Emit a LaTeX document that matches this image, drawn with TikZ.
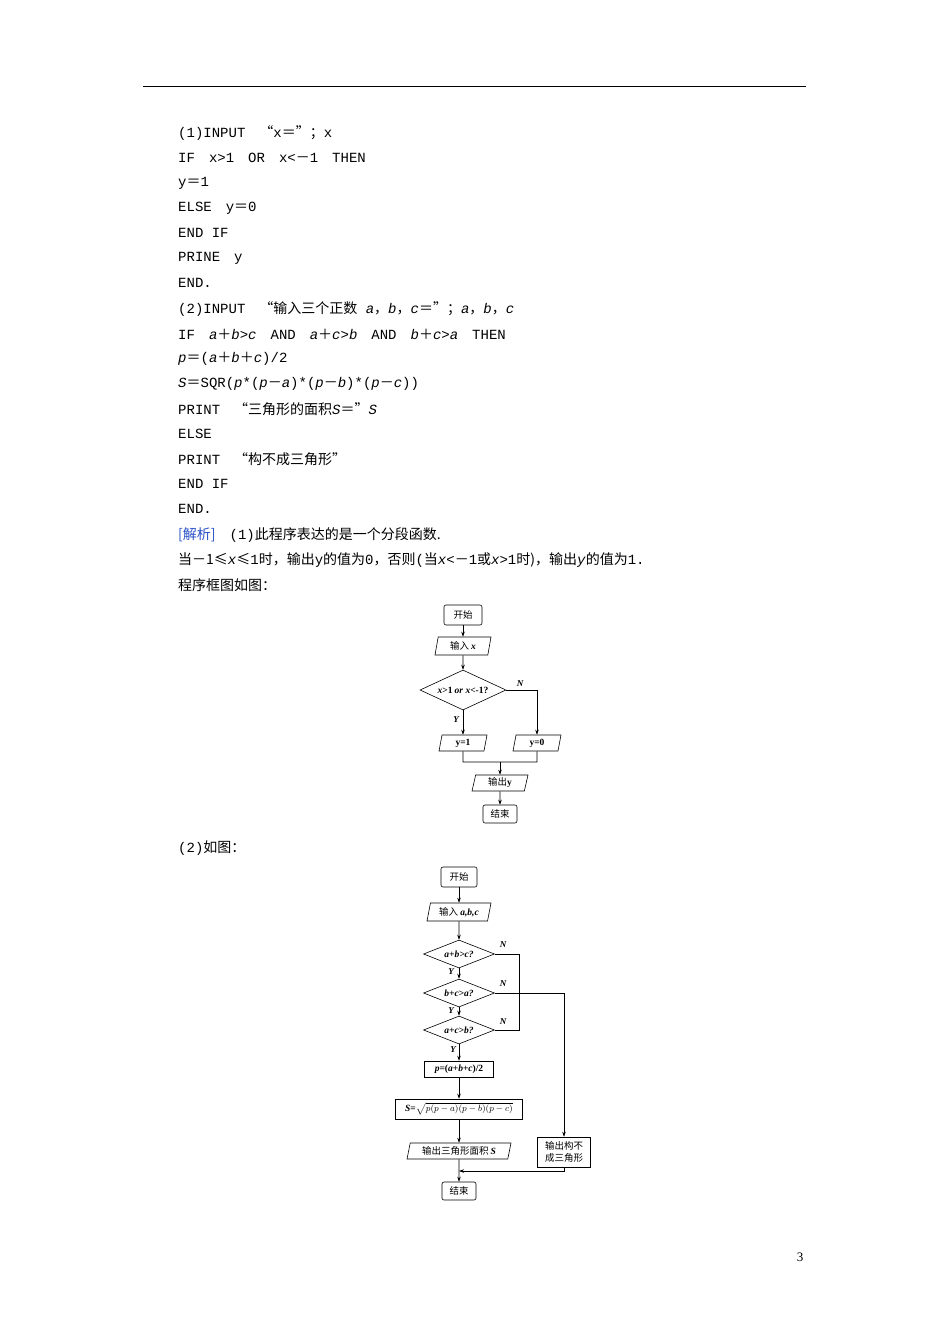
\documentclass[tikz,border=0pt]{standalone}
\usepackage{fontspec}
\setmainfont{Liberation Serif}
\newfontfamily\cjk{Noto Sans CJK SC}
\newfontfamily\mono{Liberation Mono}
\newcommand{\zh}[1]{{\cjk #1}}
\newcommand{\la}[1]{{\rmfamily\bfseries #1}}
\newcommand{\li}[1]{{\rmfamily\bfseries\itshape #1}}
\newcommand{\gp}{\hspace{14pt}}
\usetikzlibrary{shapes.geometric,arrows.meta}
\begin{document}
\begin{tikzpicture}[x=1pt,y=-1pt,
  line/.style={anchor=west,inner sep=0pt,font=\fontsize{14}{15}\selectfont\mono},
  fc/.style={draw,line width=0.6pt,font=\fontsize{9.5}{10}\selectfont\cjk,inner sep=1pt},
  term/.style={fc,rounded corners=2pt},
  io/.style={fc,trapezium,trapezium left angle=70,trapezium right angle=110,trapezium stretches body,inner sep=0pt},
  proc/.style={fc,rectangle},
  dec/.style={fc,diamond,inner sep=0pt,aspect=2.5},
  arr/.style={-{Stealth[length=5pt,width=3.5pt]},line width=0.6pt},
  lbl/.style={font=\fontsize{9}{9}\selectfont\rmfamily\bfseries\itshape,inner sep=0pt}]
\useasboundingbox (0,0) rectangle (950,1344);
\fill[white] (0,0) rectangle (950,1344);
\draw[line width=0.8pt] (143,86) -- (806,86);
% text
\node[line] (t1) at (178,133) {(1)INPUT\gp\zh{“}x\zh{＝”；}x};
\node[line] (t2) at (178,158) {IF\gp x>1\gp OR\gp x<\zh{－}1\gp THEN};
\node[line] (t3) at (178,183) {y\zh{＝}1};
\node[line] (t4) at (178,208) {ELSE\gp y\zh{＝}0};
\node[line] (t5) at (178,233) {END IF};
\node[line] (t6) at (178,258) {PRINE\gp y};
\node[line] (t7) at (178,283) {END.};
\node[line] (t8) at (178,309) {(2)INPUT\gp\zh{“输入三个正数} \textit{a}\zh{，}\textit{b}\zh{，}\textit{c}\zh{＝”；}\textit{a}\zh{，}\textit{b}\zh{，}\textit{c}};
\node[line] (t9) at (178,334) {IF\gp\textit{a}\zh{＋}\textit{b}>\textit{c}\gp AND\gp\textit{a}\zh{＋}\textit{c}>\textit{b}\gp AND\gp\textit{b}\zh{＋}\textit{c}>\textit{a}\gp THEN};
\node[line] (t10) at (178,359) {\textit{p}\zh{＝}(\textit{a}\zh{＋}\textit{b}\zh{＋}\textit{c})/2};
\node[line] (t11) at (178,384) {\textit{S}\zh{＝}SQR(\textit{p}*(\textit{p}\zh{－}\textit{a})*(\textit{p}\zh{－}\textit{b})*(\textit{p}\zh{－}\textit{c}))};
\node[line] (t12) at (178,409) {PRINT\gp\zh{“三角形的面积}\textit{S}\zh{＝”}\textit{S}};
\node[line] (t13) at (178,434) {ELSE};
\node[line] (t14) at (178,459) {PRINT\gp\zh{“构不成三角形”}};
\node[line] (t15) at (178,484) {END IF};
\node[line] (t16) at (178,509) {END.};
\node[line] (t17) at (178,535) {{\color[RGB]{40,80,200}\zh{[解析]}}\gp(1)\zh{此程序表达的是一个分段函数.}};
\node[line] (t18) at (178,560) {\zh{当－1≤}\textit{x}\zh{≤}1\zh{时，输出}y\zh{的值为}0\zh{，否则}(\zh{当}\textit{x}<\zh{－}1\zh{或}\textit{x}>1\zh{时)，输出}\textit{y}\zh{的值为}1.};
\node[line] (t19) at (178,585) {\zh{程序框图如图：}};
\node[line] (t20) at (178,848) {(2)\zh{如图：}};
\node[font=\fontsize{13}{14}\selectfont] (pg) at (800,1257) {3};
% flowchart 1
\node[term,minimum width=38pt,minimum height=20pt] (s1) at (463,615) {开始};
\node[io,minimum width=56pt,minimum height=18pt] (in1) at (463,646) {输入 \li{x}};
\node[dec,minimum width=86pt,minimum height=40pt] (d1) at (463,690) {\li{x}\la{>1} \li{or x}\la{<-1?}};
\node[io,minimum width=48pt,minimum height=16pt] (y1) at (463,743) {\la{y=1}};
\node[io,minimum width=48pt,minimum height=16pt] (y0) at (537,743) {\la{y=0}};
\node[io,minimum width=56pt,minimum height=16pt] (o1) at (500,783) {输出\la{y}};
\node[term,minimum width=34pt,minimum height=18pt] (e1) at (500,814) {结束};
\draw[arr] (s1) -- (in1);
\draw[arr] (in1) -- (d1);
\draw[arr] (d1) -- (y1);
\node[lbl] (ya) at (456,720) {Y};
\draw[arr] (d1.east) -- (537,690) -- (y0);
\node[lbl] (n1) at (520,684) {N};
\draw[line width=0.6pt] (y1.south) -- (463,762) -- (537,762) -- (y0.south);
\coordinate (m1) at (500,762);
\draw[arr] (m1) -- (o1);
\draw[arr] (o1) -- (e1);
% flowchart 2
\node[term,minimum width=36pt,minimum height=20pt] (s2) at (459,877) {开始};
\node[io,minimum width=64pt,minimum height=18pt] (in2) at (459,912) {输入 \li{a,b,c}};
\node[dec,minimum width=71pt,minimum height=28pt] (da) at (459,954) {\li{a+b>c?}};
\node[dec,minimum width=71pt,minimum height=28pt] (db) at (459,993) {\li{b+c>a?}};
\node[dec,minimum width=71pt,minimum height=28pt] (dc) at (459,1030) {\li{a+c>b?}};
\node[proc,minimum width=69pt,minimum height=16pt] (pp) at (459,1069) {\li{p}\la{=(}\li{a}\la{+}\li{b}\la{+}\li{c}\la{)/2}};
\node[proc,minimum width=127pt,minimum height=20pt] (ss) at (459,1109) {\li{S}\la{=}$\sqrt{p(p-a)(p-b)(p-c)}$};
\node[io,minimum width=104pt,minimum height=16pt] (o2) at (459,1151) {输出三角形面积 \li{S}};
\node[proc,minimum width=53pt,minimum height=30pt,align=center,font=\fontsize{9.5}{12}\selectfont\cjk] (o3) at (564,1152) {输出构不\\成三角形};
\node[term,minimum width=34pt,minimum height=18pt] (e2) at (459,1191) {结束};
\draw[arr] (s2) -- (in2);
\draw[arr] (in2) -- (da);
\draw[arr] (da) -- (db);
\draw[arr] (db) -- (dc);
\draw[arr] (dc) -- (pp);
\node[lbl] (ya2) at (451,972) {Y};
\node[lbl] (yb2) at (451,1011) {Y};
\node[lbl] (yc2) at (453,1050) {Y};
\draw[arr] (pp) -- (ss);
\draw[arr] (ss) -- (o2);
\draw[arr] (o2) -- (e2);
\draw[line width=0.6pt] (da.east) -- (519,954) -- (519,1030) -- (dc.east);
\draw[arr] (db.east) -- (564,993) -- (o3);
\draw[arr] (o3.south) -- (564,1171) -- (459,1171);
\node[lbl] (na) at (503,945) {N};
\node[lbl] (nb) at (503,984) {N};
\node[lbl] (nc) at (503,1022) {N};
\end{tikzpicture}
\end{document}
